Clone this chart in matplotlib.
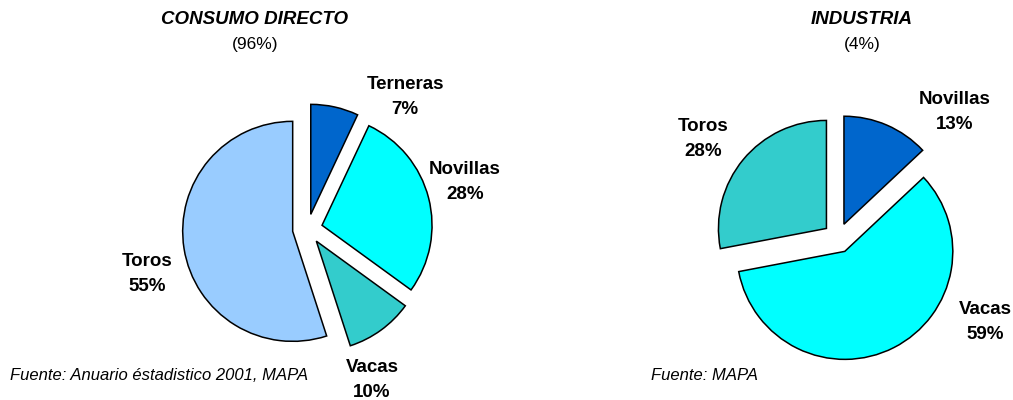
import matplotlib.pyplot as plt

plt.rcParams['font.family'] = ['Liberation Sans', 'DejaVu Sans']

# datos: consumo directo (96%)
cat_consumo = ['Terneras', 'Novillas', 'Vacas', 'Toros']
val_consumo = [7, 28, 10, 55]
col_consumo = ['#0066CC', '#00FFFF', '#33CCCC', '#99CCFF']

# datos: industria (4%)
cat_industria = ['Novillas', 'Vacas', 'Toros']
val_industria = [13, 59, 28]
col_industria = ['#0066CC', '#00FFFF', '#33CCCC']

W, H = 1013, 400
fig = plt.figure(figsize=(W / 100, H / 100), dpi=100)
ax = fig.add_axes([0, 0, 1, 1])

wprops = dict(edgecolor='black', linewidth=1.1)

# explode va en unidades de datos (pixeles aqui)
ax.pie(val_consumo, colors=col_consumo, startangle=90, counterclock=False,
       center=(307.5, H - 229), radius=110, explode=[15] * len(val_consumo),
       wedgeprops=wprops, frame=True)
ax.pie(val_industria, colors=col_industria, startangle=90, counterclock=False,
       center=(838, H - 238), radius=108, explode=[15] * len(val_industria),
       wedgeprops=wprops, frame=True)
ax.set_xlim(0, W)
ax.set_ylim(0, H)
ax.set_aspect('equal')
ax.axis('off')

lab = dict(ha='center', va='center', fontsize=13.5, fontweight='bold', linespacing=1.55)

# etiquetas consumo directo
pos_consumo = [(405, 97), (465, 182), (372, 380), (147, 274)]
for c, v, (x, y) in zip(cat_consumo, val_consumo, pos_consumo):
    ax.text(x, H - y, f'{c}\n{v}%', **lab)

# etiquetas industria
pos_industria = [(955, 112), (985, 322), (703, 139)]
for c, v, (x, y) in zip(cat_industria, val_industria, pos_industria):
    ax.text(x, H - y, f'{c}\n{v}%', **lab)

ax.text(255, H - 19, 'CONSUMO DIRECTO', ha='center', va='center', fontsize=13.5,
        fontweight='bold', fontstyle='italic')
ax.text(255, H - 45, '(96%)', ha='center', va='center', fontsize=12.5)
ax.text(862, H - 19, 'INDUSTRIA', ha='center', va='center', fontsize=13.5,
        fontweight='bold', fontstyle='italic')
ax.text(862, H - 45, '(4%)', ha='center', va='center', fontsize=12.5)

ax.text(10, H - 376, 'Fuente: Anuario éstadistico 2001, MAPA', ha='left', va='center',
        fontsize=12, fontstyle='italic')
ax.text(651, H - 376, 'Fuente: MAPA', ha='left', va='center',
        fontsize=12, fontstyle='italic')

fig.savefig('out.png', dpi=100)
